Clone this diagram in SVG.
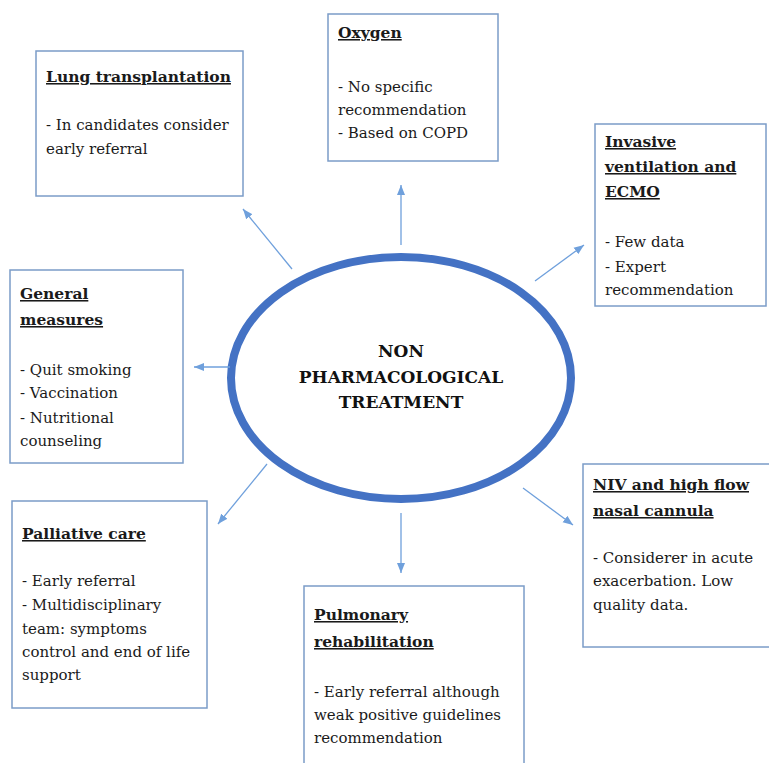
<svg xmlns="http://www.w3.org/2000/svg" width="769" height="763" viewBox="0 0 769 763">
<style>
.box{fill:#ffffff;stroke:#7b9cc8;stroke-width:1.5}
.t{font-family:"DejaVu Serif","Liberation Serif",serif;font-size:15px;fill:#1a1a1a}
.h{font-size:15.5px;font-weight:bold;text-decoration:underline}
.c{font-family:"DejaVu Serif","Liberation Serif",serif;font-size:17px;font-weight:bold;fill:#111;text-anchor:middle}
.ar{stroke:#6fa0dc;stroke-width:1.3;fill:none;marker-end:url(#ah)}
</style>
<defs>
<marker id="ah" markerUnits="userSpaceOnUse" markerWidth="10" markerHeight="10" viewBox="0 0 10 10" refX="10" refY="5" orient="auto">
<path d="M0,1 L10,5 L0,9 Z" fill="#6fa0dc"/>
</marker>
</defs>
<rect width="769" height="763" fill="#ffffff"/>

<g id="center">
<ellipse cx="401" cy="378" rx="170" ry="121" fill="#ffffff" stroke="#4472c4" stroke-width="8"/>
<text class="c" x="401" y="357">NON</text>
<text class="c" x="401" y="383">PHARMACOLOGICAL</text>
<text class="c" x="401" y="408">TREATMENT</text>
</g>

<g id="connectors">
<line class="ar" x1="401" y1="245" x2="401" y2="185"/>
<line class="ar" x1="292" y1="269" x2="243" y2="209"/>
<line class="ar" x1="535" y1="281" x2="584" y2="245"/>
<line class="ar" x1="230" y1="367" x2="194" y2="367"/>
<line class="ar" x1="267" y1="464" x2="218" y2="524"/>
<line class="ar" x1="401" y1="513" x2="401" y2="573"/>
<line class="ar" x1="523" y1="488" x2="573" y2="525"/>
</g>

<g id="lung">
<rect class="box" x="36" y="51" width="207" height="145"/>
<text class="t h" x="46" y="82">Lung transplantation</text>
<text class="t" x="46" y="130">- In candidates consider</text>
<text class="t" x="46" y="154">early referral</text>
</g>

<g id="oxygen">
<rect class="box" x="328" y="14" width="170" height="147"/>
<text class="t h" x="338" y="38">Oxygen</text>
<text class="t" x="338" y="92">- No specific</text>
<text class="t" x="338" y="115">recommendation</text>
<text class="t" x="338" y="138">- Based on COPD</text>
</g>

<g id="invasive">
<rect class="box" x="595" y="124" width="171" height="182"/>
<text class="t h" x="605" y="147">Invasive</text>
<text class="t h" x="605" y="172">ventilation and</text>
<text class="t h" x="605" y="197">ECMO</text>
<text class="t" x="605" y="247">- Few data</text>
<text class="t" x="605" y="272">- Expert</text>
<text class="t" x="605" y="295">recommendation</text>
</g>

<g id="general">
<rect class="box" x="10" y="270" width="173" height="193"/>
<text class="t h" x="20" y="299">General</text>
<text class="t h" x="20" y="325">measures</text>
<text class="t" x="20" y="375">- Quit smoking</text>
<text class="t" x="20" y="398">- Vaccination</text>
<text class="t" x="20" y="423">- Nutritional</text>
<text class="t" x="20" y="446">counseling</text>
</g>

<g id="palliative">
<rect class="box" x="12" y="501" width="195" height="207"/>
<text class="t h" x="22" y="539">Palliative care</text>
<text class="t" x="22" y="586">- Early referral</text>
<text class="t" x="22" y="610">- Multidisciplinary</text>
<text class="t" x="22" y="634">team: symptoms</text>
<text class="t" x="22" y="657">control and end of life</text>
<text class="t" x="22" y="680">support</text>
</g>

<g id="pulmonary">
<rect class="box" x="304" y="586" width="220" height="200"/>
<text class="t h" x="314" y="620">Pulmonary</text>
<text class="t h" x="314" y="647">rehabilitation</text>
<text class="t" x="314" y="697">- Early referral although</text>
<text class="t" x="314" y="720">weak positive guidelines</text>
<text class="t" x="314" y="743">recommendation</text>
</g>

<g id="niv">
<rect class="box" x="583" y="464" width="200" height="183"/>
<text class="t h" x="593" y="490">NIV and high flow</text>
<text class="t h" x="593" y="516">nasal cannula</text>
<text class="t" x="593" y="563">- Considerer in acute</text>
<text class="t" x="593" y="586">exacerbation. Low</text>
<text class="t" x="593" y="610">quality data.</text>
</g>
</svg>
